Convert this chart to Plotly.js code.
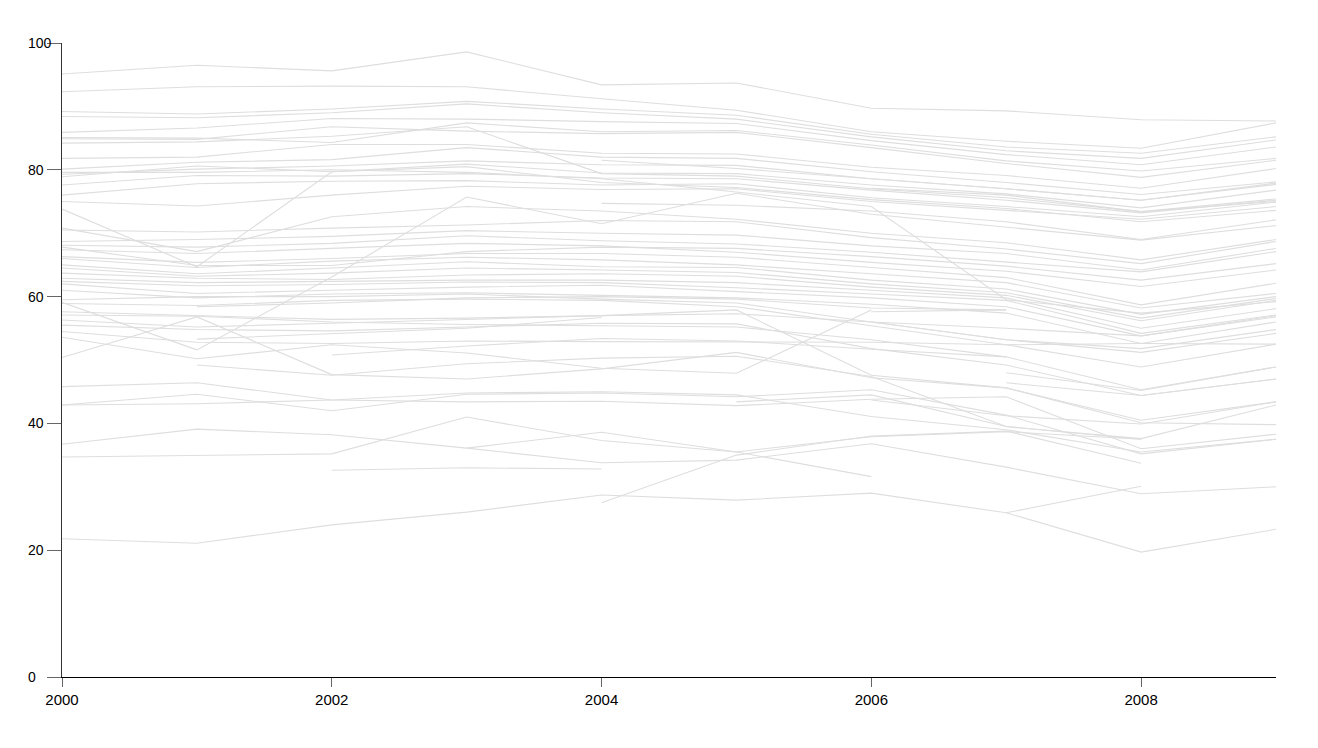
<!DOCTYPE html>
<html>
<head>
<meta charset="utf-8">
<script src="https://cdn.plot.ly/plotly-3.0.1.min.js"></script>
<style>html,body{margin:0;padding:0;background:#fff;}#chart{width:1318px;height:748px;}</style>
</head>
<body>
<div id="chart"></div>
<script>
const years = [2000, 2001, 2002, 2003, 2004, 2005, 2006, 2007, 2008, 2009];
const xTicks = [2000, 2002, 2004, 2006, 2008];
const yTicks = [0, 20, 40, 60, 80, 100];

const s01 = [95.1, 96.5, 95.6, 98.6, 93.4, 93.7, 89.7, 89.3, 87.9, 87.7];
const s02 = [92.3, 93.1, 93.2, 93.1, 91.2, 89.4, 86.0, 84.5, 83.4, 87.4];
const s03 = [89.2, 88.8, 89.6, 90.8, 89.6, 88.6, 85.6, 83.6, 82.6, 85.2];
const s04 = [88.4, 88.2, 89.0, 90.4, 89.0, 88.0, 85.2, 83.0, 81.8, 84.7];
const s05 = [85.9, 86.6, 88.1, 88.0, 87.6, 87.3, 84.6, 82.4, 80.8, 83.6];
const s06 = [85.1, 85.0, 84.3, 87.4, 86.0, 86.2, 83.9, 81.4, 79.8, 81.8];
const s07 = [84.9, 84.8, 86.8, 86.1, 85.7, 85.9, 83.5, 81.0, 78.8, 81.5];
const s08 = [84.2, 84.4, 85.3, 86.8, 79.4, 79.0, 77.0, 75.6, 73.4, 75.4];
const s09 = [81.8, 82.0, 84.0, 84.0, 82.6, 82.5, 80.4, 79.1, 77.1, 80.2];
const s10 = [80.1, 81.2, 81.6, 83.5, 82.0, 81.8, 79.7, 78.0, 76.1, 78.1];
const s11 = [79.3, 80.1, 80.6, 81.4, 80.8, 80.7, 78.6, 77.0, 75.2, 77.7];
const s12 = [78.9, 80.6, 79.7, 80.9, 79.5, 79.4, 77.6, 76.2, 74.0, 76.8];
const s13 = [77.6, 79.1, 79.0, 79.4, 78.7, 78.6, 76.8, 75.2, 73.2, 75.2];
const s14 = [76.0, 77.8, 78.2, 78.3, 77.6, 77.8, 75.6, 74.2, 72.6, 74.9];
const s15 = [75.0, 74.3, 76.0, 77.4, 76.9, 77.0, 75.0, 73.6, 72.2, 74.2];
const s16 = [73.8, 64.7, 79.7, 80.5, 78.0, 77.2, 75.3, 73.9, 71.8, 73.6];
const s17 = [59.1, 51.6, 63.1, 75.7, 71.5, 76.3, 73.0, 71.0, 68.9, 71.2];
const s18 = [79.6, 79.6, 80.0, 79.6, 78.6, 76.5, 74.2, 59.5, 57.4, 59.2];
const s19 = [70.8, 67.1, 72.6, 74.2, 73.5, 72.2, 70.0, 68.5, 65.8, 69.0];
const s20 = [70.5, 70.2, 70.8, 71.3, 72.0, 71.8, 69.3, 67.5, 65.2, 68.7];
const s21 = [68.7, 69.0, 69.5, 70.4, 70.0, 69.7, 68.0, 66.8, 64.2, 67.6];
const s22 = [68.1, 67.8, 68.4, 69.6, 68.8, 68.3, 67.0, 65.5, 63.9, 67.1];
const s23 = [67.8, 64.9, 64.9, 67.1, 67.8, 67.6, 66.3, 64.8, 62.6, 65.2];
const s24 = [67.4, 66.8, 67.6, 68.4, 68.0, 67.0, 65.4, 64.0, 61.6, 64.2];
const s25 = [66.3, 65.4, 66.0, 66.8, 66.8, 66.2, 64.6, 63.0, 58.7, 62.1];
const s26 = [66.0, 64.6, 65.6, 66.2, 65.8, 65.0, 63.6, 62.2, 58.2, 60.5];
const s27 = [65.0, 63.6, 64.5, 65.5, 64.7, 64.6, 62.6, 61.2, 57.2, 60.0];
const s28 = [64.5, 63.2, 63.7, 64.5, 64.2, 63.8, 62.0, 60.6, 56.6, 59.7];
const s29 = [63.7, 62.9, 62.7, 63.4, 63.6, 63.2, 61.5, 60.2, 56.2, 59.4];
const s30 = [62.9, 62.2, 62.4, 62.6, 62.6, 62.2, 61.0, 59.8, 55.0, 58.1];
const s31 = [62.4, 61.7, 61.9, 62.3, 62.2, 61.4, 60.4, 59.4, 54.2, 57.1];
const s32 = [62.0, 60.5, 61.0, 61.5, 61.8, 60.8, 59.8, 58.4, 53.8, 56.8];
const s33 = [61.0, 59.8, 60.4, 60.6, 60.2, 59.8, 58.8, 57.4, 52.6, 56.0];
const s34 = [59.5, 60.0, 60.0, 60.4, 59.6, 59.0, 56.0, 53.2, 51.2, 54.2];
const s35 = [58.9, 58.6, 59.4, 59.6, 59.4, 58.4, 55.4, 52.4, 48.9, 52.5];
const s36 = [57.6, 57.0, 56.4, 56.6, 57.0, 57.9, 47.6, 45.6, 40.1, 39.8];
const s37 = [57.1, 56.9, 56.0, 55.6, 55.4, 55.2, 53.2, 50.5, 45.3, 48.9];
const s38 = [56.3, 55.2, 55.8, 56.4, 57.0, 57.3, 56.0, 55.0, 53.8, 57.0];
const s39 = [55.5, 54.8, 54.6, 55.2, 55.8, 55.7, 51.8, 49.2, 44.4, 47.0];
const s40 = [54.5, 52.8, 52.6, 53.0, 52.9, 52.8, 52.8, 52.4, 52.6, 52.5];
const s41 = [53.6, 50.2, 52.4, 51.1, 48.7, 47.9, 57.9, null, null, null];
const s42 = [50.4, 56.8, 47.7, 47.0, 48.6, 51.2, 47.2, 45.6, 40.5, 43.4];
const s43 = [45.8, 46.4, 43.7, 43.4, 43.5, 42.8, 43.8, 44.2, 36.0, 38.3];
const s44 = [42.9, 44.6, 42.0, 44.6, 44.8, 44.2, 45.3, 41.3, 35.2, 37.5];
const s45 = [42.9, 43.1, 43.7, 44.8, 45.0, 44.5, 41.1, 39.0, 35.5, 37.5];
const s46 = [36.7, 39.1, 38.2, 36.1, 33.8, 34.2, 36.8, 33.1, 28.9, 30.0];
const s47 = [34.7, 34.9, 35.2, 41.0, 37.3, 35.5, 31.6, null, null, null];
const s48 = [21.8, 21.1, 24.0, 26.0, 28.7, 27.9, 29.0, 25.9, 19.7, 23.3];
const s49 = [null, 58.4, 59.0, 59.8, 60.0, 59.6, 58.2, 57.9, null, null];
const s50 = [null, 53.3, 54.2, 55.0, 56.7, null, null, null, null, null];
const s51 = [null, 49.2, 47.6, 49.4, 50.3, 50.6, 47.4, 39.5, 37.5, null];
const s52 = [null, null, 50.8, 52.2, 53.4, 53.0, 51.7, 50.5, null, null];
const s53 = [null, null, 32.6, 33.0, 32.8, null, null, null, null, null];
const s54 = [null, null, null, 36.1, 38.6, 35.5, 37.9, 38.7, 37.5, null];
const s55 = [null, null, null, null, 27.5, 35.0, 38.0, 38.8, 33.7, null];
const s56 = [null, null, null, null, 81.5, 80.2, 78.6, 77.0, 75.2, 77.9];
const s57 = [null, null, null, null, 74.7, 74.4, 73.5, 71.8, 69.0, 72.1];
const s58 = [null, null, null, null, null, 43.4, 44.5, 39.5, 37.6, 42.9];
const s59 = [null, null, null, null, null, null, 77.1, 76.0, 73.4, 75.0];
const s60 = [null, null, null, null, null, null, 56.0, 53.2, 51.8, 54.8];
const s61 = [null, null, null, null, null, null, 43.7, 41.2, 39.9, 43.4];
const s62 = [null, null, null, null, null, null, null, 48.0, 45.2, 48.9];
const s63 = [null, null, null, null, null, null, null, 46.4, 44.4, 47.0];
const s64 = [null, null, null, null, null, null, null, 25.9, 30.1, null];
const s65 = [null, null, null, null, null, null, 57.6, 57.9, null, null];

const series = [s01, s02, s03, s04, s05, s06, s07, s08, s09, s10, s11, s12, s13, s14, s15, s16,
  s17, s18, s19, s20, s21, s22, s23, s24, s25, s26, s27, s28, s29, s30, s31, s32, s33, s34, s35,
  s36, s37, s38, s39, s40, s41, s42, s43, s44, s45, s46, s47, s48, s49, s50, s51, s52, s53, s54,
  s55, s56, s57, s58, s59, s60, s61, s62, s63, s64, s65];

const traces = series.map(function (vals) {
  return {
    type: 'scatter', mode: 'lines', x: years, y: vals,
    connectgaps: false, hoverinfo: 'skip', showlegend: false,
    line: { color: '#dedede', width: 1.1 }
  };
});

const yFont = { family: 'Liberation Sans, Arial, sans-serif', size: 14, color: '#000' };
const xFont = { family: 'Liberation Sans, Arial, sans-serif', size: 15, color: '#000' };

const annotations = yTicks.map(function (v) {
  return {
    xref: 'paper', yref: 'y', x: 0, y: v, xshift: -36, xanchor: 'left', yanchor: 'middle',
    text: String(v), showarrow: false, font: yFont
  };
});

const layout = {
  width: 1318, height: 748,
  margin: { l: 62, r: 42, t: 43, b: 71 },
  paper_bgcolor: '#fff', plot_bgcolor: '#fff',
  font: yFont,
  showlegend: false,
  annotations: annotations,
  xaxis: {
    range: [2000, 2009], tickvals: xTicks, ticktext: xTicks.map(String),
    showgrid: false, zeroline: false, showline: true, linecolor: '#000', linewidth: 1,
    ticks: 'outside', ticklen: 9, tickcolor: '#666', tickwidth: 1, tickfont: xFont,
    fixedrange: true
  },
  yaxis: {
    range: [0, 100], tickvals: yTicks, showticklabels: false,
    showgrid: false, zeroline: false, showline: true, linecolor: '#333', linewidth: 1,
    ticks: 'outside', ticklen: 14, tickcolor: '#666', tickwidth: 1,
    fixedrange: true
  }
};

Plotly.newPlot('chart', traces, layout, { staticPlot: true, displayModeBar: false });
</script>
</body>
</html>
